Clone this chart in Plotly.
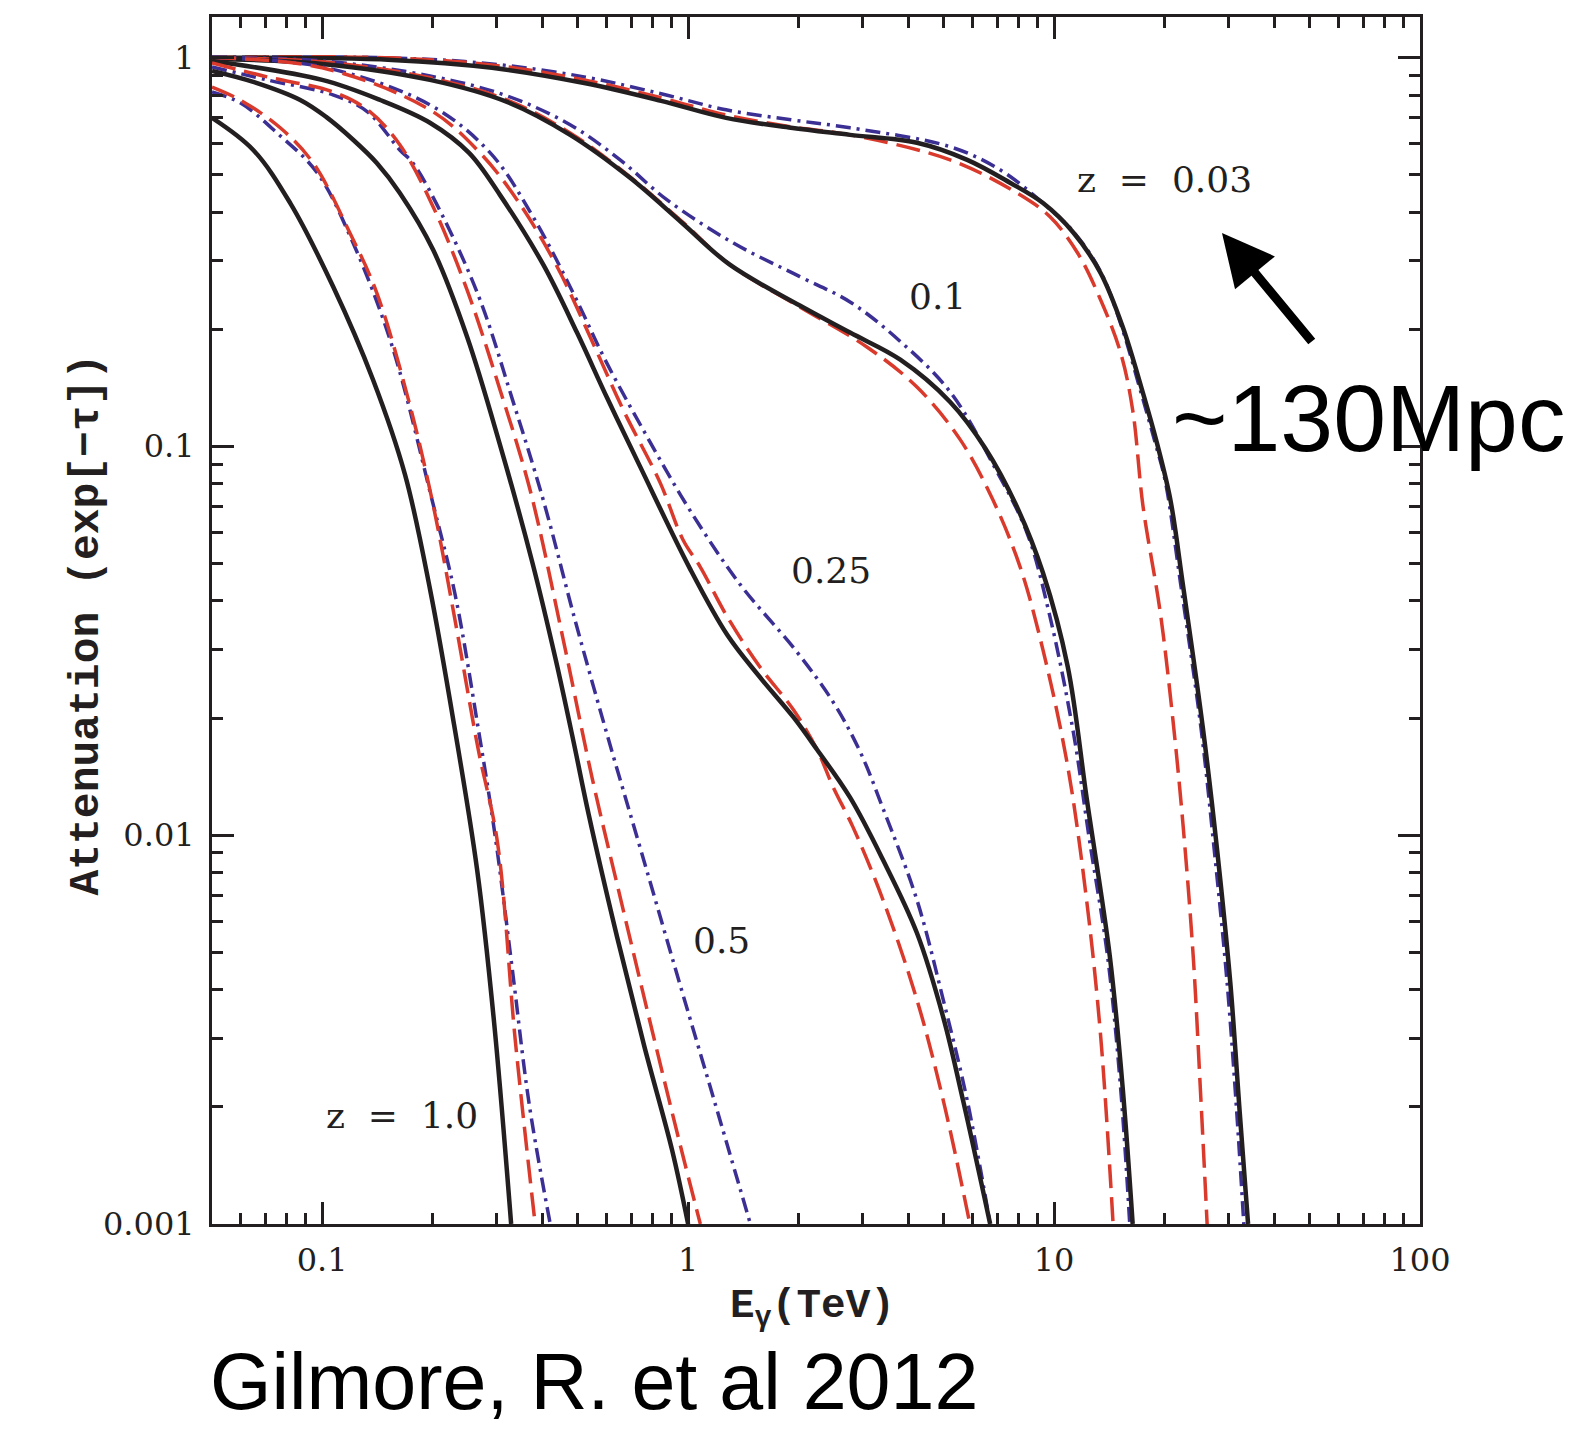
import math
import plotly.graph_objects as go

# ---------------- data (E in TeV, attenuation exp(-tau)) ----------------
# z = 0.03
x_z003_solid = [0.05, 0.155, 0.291, 0.52, 0.844, 1.27, 1.91, 2.77, 4.22, 5.79, 7.58, 9.33, 11.3, 13.4, 15.4, 17.5, 19.1, 20.8, 22.5, 25.5, 27.9, 30.3, 32.2, 33.9]
y_z003_solid = [0.997, 0.985, 0.94, 0.859, 0.773, 0.699, 0.659, 0.632, 0.603, 0.545, 0.476, 0.422, 0.354, 0.279, 0.203, 0.137, 0.102, 0.0727, 0.044, 0.0189, 0.00916, 0.00419, 0.00191, 0.001]
x_z003_dash = [0.05, 0.155, 0.291, 0.52, 0.844, 1.27, 1.91, 2.77, 5.2, 7.92, 9.75, 11.6, 13.4, 15.2, 16.4, 17.5, 19.5, 21.1, 22.5, 24.0, 25.1, 26.2]
y_z003_dash = [1.0, 0.997, 0.956, 0.875, 0.787, 0.711, 0.663, 0.632, 0.545, 0.448, 0.389, 0.314, 0.238, 0.174, 0.124, 0.0702, 0.0375, 0.02, 0.0107, 0.00489, 0.00224, 0.001]
x_z003_dashdot = [0.05, 0.155, 0.291, 0.52, 0.844, 1.27, 1.91, 2.77, 5.2, 7.12, 9.33, 11.3, 13.4, 15.3, 17.3, 18.9, 20.1, 22.2, 25.2, 27.4, 29.7, 31.6, 33.0]
y_z003_dashdot = [1.0, 0.997, 0.962, 0.891, 0.806, 0.733, 0.691, 0.659, 0.589, 0.514, 0.422, 0.356, 0.281, 0.203, 0.137, 0.102, 0.0819, 0.044, 0.0189, 0.00916, 0.00419, 0.00191, 0.001]

# z = 0.1
x_z01_solid = [0.05, 0.1, 0.197, 0.32, 0.476, 0.694, 0.963, 1.30, 2.02, 2.77, 3.80, 5.2, 6.48, 7.92, 9.33, 10.9, 12.3, 14.2, 15.4, 16.4]
y_z01_solid = [0.991, 0.962, 0.875, 0.768, 0.632, 0.49, 0.375, 0.293, 0.23, 0.196, 0.167, 0.13, 0.099, 0.0698, 0.0472, 0.0271, 0.0123, 0.00489, 0.00224, 0.001]
x_z01_dash = [0.05, 0.1, 0.197, 0.32, 0.476, 0.694, 0.963, 1.30, 2.02, 3.08, 4.22, 5.54, 6.81, 8.08, 9.33, 10.9, 12.3, 13.4, 14.5]
y_z01_dash = [0.997, 0.974, 0.886, 0.777, 0.639, 0.493, 0.378, 0.293, 0.228, 0.18, 0.142, 0.104, 0.0727, 0.0489, 0.0299, 0.015, 0.00669, 0.00306, 0.001]
x_z01_dashdot = [0.05, 0.1, 0.197, 0.32, 0.476, 0.652, 0.876, 1.33, 2.02, 2.77, 3.80, 5.2, 6.9, 8.44, 9.75, 11.3, 12.5, 14.0, 15.2, 16.1]
y_z01_dashdot = [1.0, 0.979, 0.896, 0.796, 0.671, 0.545, 0.43, 0.333, 0.273, 0.235, 0.186, 0.138, 0.0879, 0.0598, 0.0364, 0.0183, 0.0097, 0.00489, 0.00224, 0.001]

# z = 0.25
x_z025_solid = [0.05, 0.1, 0.144, 0.197, 0.252, 0.306, 0.402, 0.497, 0.601, 0.74, 1.01, 1.28, 1.57, 1.94, 2.25, 2.77, 3.41, 4.22, 4.98, 5.64, 6.69]
y_z025_solid = [0.979, 0.875, 0.777, 0.679, 0.568, 0.443, 0.293, 0.196, 0.133, 0.0885, 0.0486, 0.0327, 0.0255, 0.0201, 0.0166, 0.0125, 0.00863, 0.0056, 0.0034, 0.00208, 0.001]
x_z025_dash = [0.05, 0.1, 0.197, 0.27, 0.341, 0.439, 0.54, 0.665, 0.839, 0.969, 1.08, 1.28, 1.57, 1.94, 2.25, 2.49, 2.82, 3.41, 4.22, 4.98, 5.89]
y_z025_dash = [0.997, 0.94, 0.733, 0.568, 0.43, 0.289, 0.191, 0.124, 0.0805, 0.0574, 0.0489, 0.0364, 0.0271, 0.021, 0.0166, 0.0133, 0.0105, 0.00681, 0.00377, 0.00208, 0.001]
x_z025_dashdot = [0.05, 0.1, 0.197, 0.288, 0.377, 0.485, 0.593, 0.763, 1.01, 1.39, 1.96, 2.49, 2.95, 3.41, 4.22, 4.98, 5.79, 6.69]
y_z025_dashdot = [0.997, 0.945, 0.755, 0.568, 0.389, 0.248, 0.167, 0.108, 0.0686, 0.044, 0.03, 0.022, 0.0164, 0.0117, 0.00681, 0.00377, 0.00208, 0.001]

# z = 0.5
x_z05_solid = [0.05, 0.0648, 0.0871, 0.1025, 0.1215, 0.141, 0.163, 0.201, 0.249, 0.306, 0.375, 0.435, 0.485, 0.535, 0.635, 0.758, 0.904, 1.0]
y_z05_solid = [0.923, 0.865, 0.777, 0.703, 0.614, 0.535, 0.448, 0.32, 0.191, 0.101, 0.0504, 0.0282, 0.0176, 0.0113, 0.00563, 0.00288, 0.00155, 0.001]
x_z05_dash = [0.05, 0.0707, 0.107, 0.133, 0.163, 0.201, 0.249, 0.306, 0.37, 0.453, 0.547, 0.66, 0.797, 0.951, 1.08]
y_z05_dash = [0.968, 0.891, 0.815, 0.733, 0.596, 0.413, 0.252, 0.14, 0.0772, 0.0327, 0.014, 0.00661, 0.00315, 0.0016, 0.001]
x_z05_dashdot = [0.05, 0.0707, 0.107, 0.133, 0.163, 0.177, 0.214, 0.27, 0.331, 0.402, 0.491, 0.601, 0.744, 0.939, 1.18, 1.48]
y_z05_dashdot = [0.945, 0.875, 0.801, 0.724, 0.578, 0.535, 0.389, 0.238, 0.132, 0.0727, 0.0357, 0.0181, 0.0091, 0.00429, 0.00207, 0.001]

# z = 1.0
x_z10_solid = [0.05, 0.0648, 0.0818, 0.1072, 0.1378, 0.1685, 0.1973, 0.2294, 0.2652, 0.2951, 0.3284]
y_z10_solid = [0.699, 0.578, 0.422, 0.257, 0.148, 0.0844, 0.0427, 0.0192, 0.00813, 0.00329, 0.001]
x_z10_dash = [0.05, 0.0597, 0.0768, 0.0945, 0.119, 0.141, 0.172, 0.2, 0.231, 0.267, 0.301, 0.337, 0.382]
y_z10_dash = [0.839, 0.777, 0.659, 0.535, 0.354, 0.248, 0.132, 0.0723, 0.0355, 0.0166, 0.00965, 0.00297, 0.001]
x_z10_dashdot = [0.05, 0.0597, 0.0753, 0.0969, 0.1215, 0.155, 0.2, 0.231, 0.267, 0.297, 0.331, 0.368, 0.42]
y_z10_dashdot = [0.815, 0.764, 0.639, 0.505, 0.333, 0.182, 0.0723, 0.0414, 0.0188, 0.00995, 0.0045, 0.00203, 0.001]

x_tickvals = [0.1, 1, 10, 100]
x_ticktext = ["0.1", "1", "10", "100"]
y_tickvals = [0.001, 0.01, 0.1, 1]
y_ticktext = ["0.001", "0.01", "0.1", "1"]

curve_labels = ["z\u00a0\u00a0=\u00a0\u00a00.03", "0.1", "0.25", "0.5", "z\u00a0\u00a0=\u00a0\u00a01.0"]
label_x = [20.0, 4.8, 2.45, 1.23, 0.165]
label_y = [0.484, 0.243, 0.0478, 0.00537, 0.0019]

# ---------------- figure ----------------
INK = "#231f20"
RED = "#d93a2c"
BLUE = "#3b2f94"

fig = go.Figure()

sets = [
    (x_z003_dashdot, y_z003_dashdot, x_z003_dash, y_z003_dash, x_z003_solid, y_z003_solid),
    (x_z01_dashdot, y_z01_dashdot, x_z01_dash, y_z01_dash, x_z01_solid, y_z01_solid),
    (x_z025_dashdot, y_z025_dashdot, x_z025_dash, y_z025_dash, x_z025_solid, y_z025_solid),
    (x_z05_dashdot, y_z05_dashdot, x_z05_dash, y_z05_dash, x_z05_solid, y_z05_solid),
    (x_z10_dashdot, y_z10_dashdot, x_z10_dash, y_z10_dash, x_z10_solid, y_z10_solid),
]

for xb, yb, xr, yr, xk, yk in sets:
    fig.add_trace(go.Scatter(x=xb, y=yb, mode="lines",
                             line=dict(color=BLUE, width=3.5, dash="15px,6px,3px,6px", shape="spline", smoothing=1.0),
                             showlegend=False, hoverinfo="skip"))
    fig.add_trace(go.Scatter(x=xr, y=yr, mode="lines",
                             line=dict(color=RED, width=3.5, dash="24px,9px", shape="spline", smoothing=1.0),
                             showlegend=False, hoverinfo="skip"))
    fig.add_trace(go.Scatter(x=xk, y=yk, mode="lines",
                             line=dict(color=INK, width=4.5, shape="spline", smoothing=1.0),
                             showlegend=False, hoverinfo="skip"))

x_minor = [m * 10 ** e for e in range(-2, 2) for m in range(2, 10)]
y_minor = [m * 10 ** e for e in range(-3, 0) for m in range(2, 10)]

axis_common = dict(
    showline=True, linewidth=3, linecolor=INK, mirror="allticks",
    ticks="inside", ticklen=22, tickwidth=3, tickcolor=INK,
    showgrid=False, zeroline=False,
    tickfont=dict(family="DejaVu Serif", size=32, color=INK),
)

fig.update_xaxes(type="log", range=[math.log10(0.05), 2],
                 tickmode="array", tickvals=x_tickvals, ticktext=x_ticktext,
                 minor=dict(tickmode="array", tickvals=x_minor, ticks="inside", ticklen=11,
                            tickwidth=3, tickcolor=INK, showgrid=False),
                 ticklabelstandoff=6,
                 **axis_common)
fig.update_yaxes(type="log", range=[-3, math.log10(1.27)],
                 tickmode="array", tickvals=y_tickvals, ticktext=y_ticktext,
                 minor=dict(tickmode="array", tickvals=y_minor, ticks="inside", ticklen=11,
                            tickwidth=3, tickcolor=INK, showgrid=False),
                 ticklabelstandoff=8,
                 **axis_common)

annotations = []
for t, lx, ly in zip(curve_labels, label_x, label_y):
    annotations.append(dict(x=math.log10(lx), y=math.log10(ly), xref="x", yref="y",
                            text=t, showarrow=False,
                            font=dict(family="DejaVu Serif", size=36, color=INK),
                            xanchor="center", yanchor="middle"))

title_font = dict(family="Liberation Mono", size=43, color=INK, weight="bold")
annotations.append(dict(x=-0.1035, y=0.4966, xref="paper", yref="paper",
                        text="Attenuation (exp[\u2212\u03c4])", textangle=-90, showarrow=False,
                        font=title_font, xanchor="center", yanchor="middle"))
annotations.append(dict(x=0.4967, y=-0.0705, xref="paper", yref="paper",
                        text="E<sub>\u03b3</sub>(TeV)", showarrow=False,
                        font=dict(family="Liberation Mono", size=41, color=INK, weight="bold"),
                        xanchor="center", yanchor="middle"))

# arrow
annotations.append(dict(x=(1222 - 212) / 1208, y=(1224 - 233) / 1207, xref="paper", yref="paper",
                        ax=91, ay=110, axref="pixel", ayref="pixel", text="",
                        showarrow=True, arrowhead=2, arrowsize=1.15, arrowwidth=9, arrowcolor="#000000"))
annotations.append(dict(x=(1170 - 212) / 1208, y=(1224 - 418) / 1207, xref="paper", yref="paper",
                        text="~130Mpc", showarrow=False,
                        font=dict(family="Liberation Sans", size=95, color="#000000"),
                        xanchor="left", yanchor="middle"))
annotations.append(dict(x=(208 - 212) / 1208, y=(1224 - 1382) / 1207, xref="paper", yref="paper",
                        text="Gilmore, R. et al 2012", showarrow=False,
                        font=dict(family="Liberation Sans", size=79, color="#000000"),
                        xanchor="left", yanchor="middle"))

fig.update_layout(
    width=1588, height=1429,
    margin=dict(l=212, r=168, t=17, b=205),
    paper_bgcolor="white", plot_bgcolor="white",
    annotations=annotations,
    showlegend=False,
)

fig.write_html("out.html")
